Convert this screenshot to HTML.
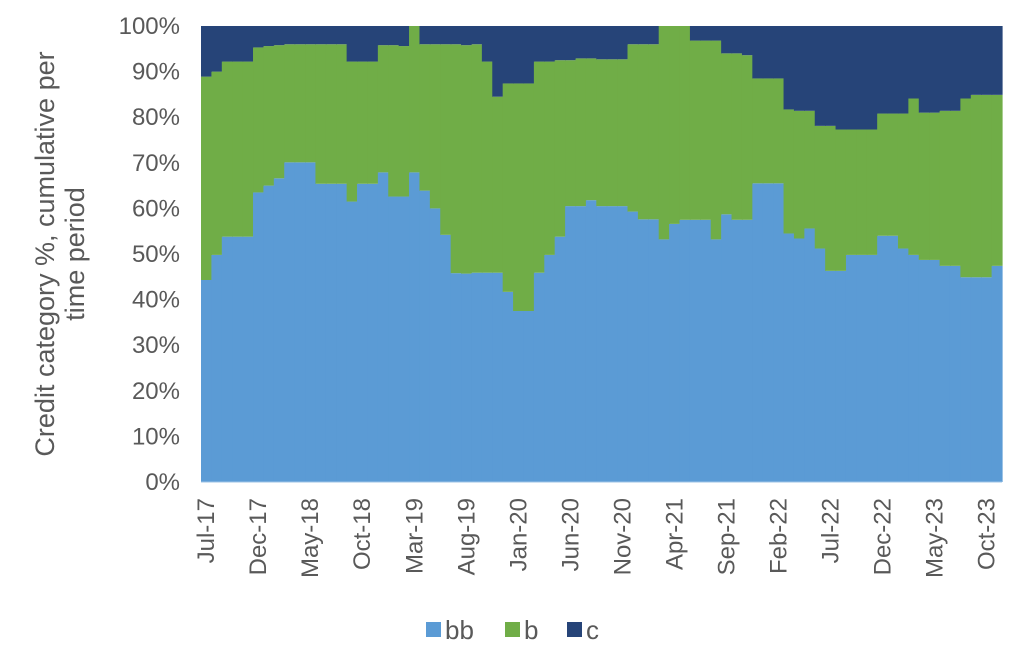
<!DOCTYPE html>
<html><head><meta charset="utf-8"><style>
html,body{margin:0;padding:0;background:#fff;}
svg{display:block;font-family:"Liberation Sans",Arial,sans-serif;}
</style></head><body>
<svg id="chart" width="1024" height="667" viewBox="0 0 1024 667">
<g id="bars"></g>
<g id="yticks"></g>
<g id="xticks"></g>
<text transform="translate(60,254) rotate(-90)" text-anchor="middle" font-size="27" fill="#595959"><tspan x="0" dy="-6">Credit category %, cumulative per</tspan><tspan x="0" dy="30">time period</tspan></text>
<g>
<rect x="426" y="622" width="15" height="15" fill="#5B9BD5"/>
<text x="445" y="639" font-size="26" fill="#595959">bb</text>
<rect x="505" y="622" width="15" height="15" fill="#70AD47"/>
<text x="524" y="639" font-size="26" fill="#595959">b</text>
<rect x="567" y="622" width="15" height="15" fill="#264478"/>
<text x="586" y="639" font-size="26" fill="#595959">c</text>
</g>
</svg>
<script>
const months = ["Jan","Feb","Mar","Apr","May","Jun","Jul","Aug","Sep","Oct","Nov","Dec"];
const categories = [];
for (let k = 0; k < 77; k++) { const m = (6 + k) % 12; const yr = 17 + Math.floor((6 + k) / 12); categories.push(months[m] + "-" + yr); }
const bbValues = [44.3,49.8,53.8,53.8,53.8,63.5,65.0,66.6,70.1,70.1,70.1,65.4,65.4,65.4,61.5,65.4,65.4,67.9,62.6,62.6,67.9,63.9,60.0,54.2,45.8,45.7,45.9,45.9,45.9,41.7,37.5,37.5,45.9,49.8,53.8,60.5,60.5,61.8,60.5,60.5,60.5,59.3,57.6,57.6,53.2,56.6,57.5,57.5,57.5,53.2,58.7,57.5,57.5,65.5,65.5,65.5,54.5,53.4,55.6,51.2,46.3,46.3,49.8,49.8,49.8,54.0,54.0,51.2,49.8,48.7,48.7,47.4,47.4,44.9,44.9,44.9,47.4];
const bbPlusB = [88.9,90.0,92.2,92.2,92.2,95.3,95.6,95.8,96.0,96.0,96.0,96.0,96.0,96.0,92.2,92.2,92.2,95.8,95.8,95.6,100,96.0,96.0,96.0,96.0,95.8,96.0,92.2,84.5,87.4,87.4,87.4,92.2,92.2,92.5,92.5,92.9,92.9,92.7,92.7,92.7,96.0,96.0,96.0,100,100,100,96.8,96.8,96.8,94.0,94.0,93.6,88.5,88.5,88.5,81.7,81.4,81.4,78.1,78.1,77.3,77.3,77.3,77.3,80.8,80.8,80.8,84.1,81.0,81.0,81.4,81.4,84.1,84.9,84.9,84.9];
const yTickLabels = ["0%","10%","20%","30%","40%","50%","60%","70%","80%","90%","100%"];
const yTickValues = [0,10,20,30,40,50,60,70,80,90,100];

const X0 = 201, X1 = 1002, Y0 = 482, Y1 = 26;
const NS = "http://www.w3.org/2000/svg";
const bw = (X1 - X0) / categories.length;
function xPos(i) { return X0 + i * bw; }
function yPos(v) { return Y0 - (v / 100) * (Y0 - Y1); }
function mk(tag, attrs, parent) { const e = document.createElementNS(NS, tag); for (const k in attrs) e.setAttribute(k, attrs[k]); parent.appendChild(e); return e; }

const gb = document.getElementById("bars");
for (let i = 0; i < categories.length; i++) {
  const x = xPos(i), w = bw + 0.6;
  const segs = [[0, bbValues[i], "#5B9BD5", "bb"], [bbValues[i], bbPlusB[i], "#70AD47", "b"], [bbPlusB[i], 100, "#264478", "c"]];
  for (const s of segs) {
    if (s[1] - s[0] <= 0) continue;
    const r = mk("rect", {x: x, y: yPos(s[1]), width: w, height: yPos(s[0]) - yPos(s[1]), fill: s[2]}, gb);
    
    
  }
}
const axis = mk("line", {x1: X0, x2: X1, y1: Y0, y2: Y0, stroke: "#9DC3E6", "stroke-width": 1}, gb);



const gy = document.getElementById("yticks");
for (let j = 0; j < yTickValues.length; j++) {
  const t = mk("text", {x: 180, y: yPos(yTickValues[j]) + 8, "text-anchor": "end", "font-size": 24, fill: "#595959"}, gy);
  t.textContent = yTickLabels[j];
  
  
}
const gx = document.getElementById("xticks");
for (let i = 0; i < categories.length; i += 5) {
  const cx = xPos(i) + bw / 2 + 8;
  const t = mk("text", {transform: "translate(" + cx + ",498) rotate(-90)", "text-anchor": "end", "font-size": 24, fill: "#595959"}, gx);
  t.textContent = categories[i];
  
  
}
</script>
</body></html>
